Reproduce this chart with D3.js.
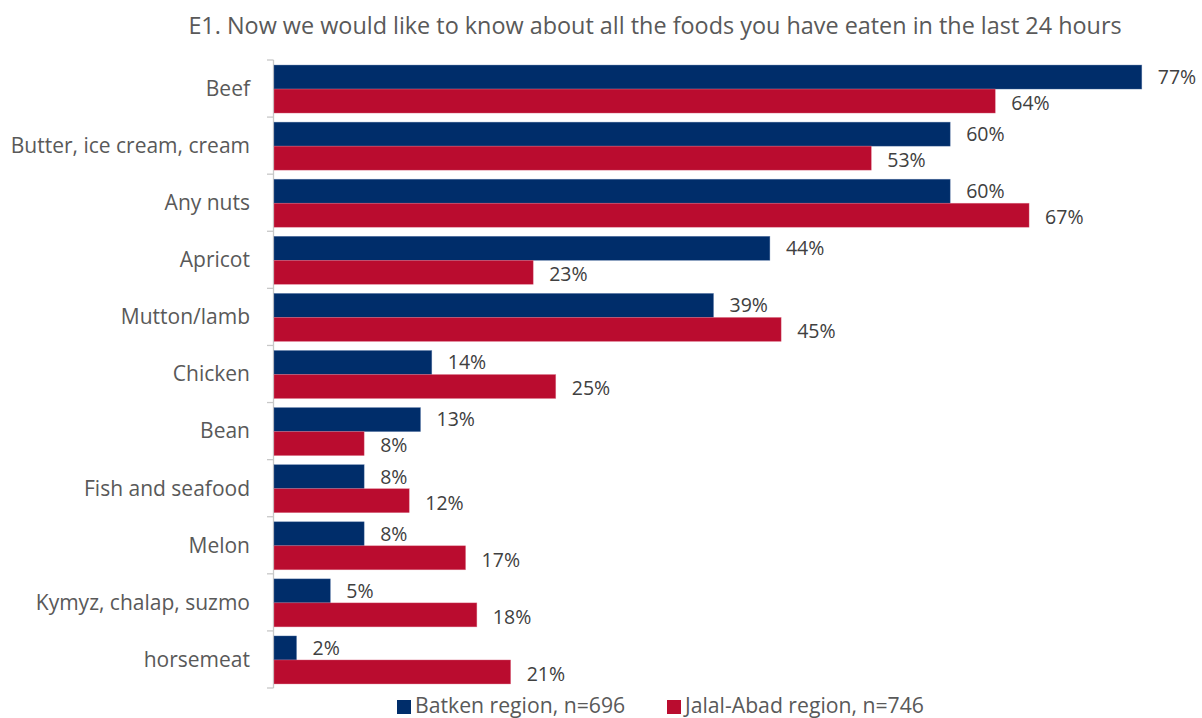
<!DOCTYPE html>
<html>
<head>
<meta charset="utf-8">
<script src="https://cdn.jsdelivr.net/npm/d3@7/dist/d3.min.js"></script>
<style>
  html, body { margin: 0; padding: 0; background: #fff; }
  svg { display: block; font-family: "Open Sans", "Noto Sans", sans-serif; }
</style>
</head>
<body>
<svg id="chart" width="1202" height="718"></svg>
<script>
// Food items eaten in the last 24 hours, share of respondents (%)
const categories = [
  "Beef", "Butter, ice cream, cream", "Any nuts", "Apricot", "Mutton/lamb",
  "Chicken", "Bean", "Fish and seafood", "Melon", "Kymyz, chalap, suzmo", "horsemeat"
];
const batken   = [77, 60, 60, 44, 39, 14, 13, 8, 8, 5, 2];
const jalalAbad = [64, 53, 67, 23, 45, 25, 8, 12, 17, 18, 21];
const seriesNames = ["Batken region, n=696", "Jalal-Abad region, n=746"];
const titleText = "E1. Now we would like to know about all the foods you have eaten in the last 24 hours";

const colors = ["#002D6A", "#BA0C2F"];
const textColor = "#595959";

const svg = d3.select("#chart");
const plotLeft = 274, plotTop = 60, plotBottom = 688;

const x = d3.scaleLinear().domain([0, 80]).range([plotLeft, plotLeft + 901.6]);
const y = d3.scaleBand().domain(categories).range([plotTop, plotBottom]).paddingInner(0).paddingOuter(0);
const barH = 24;
const barOffset = (y.bandwidth() - 2 * barH) / 2 + 0.5;

// Title
svg.append("text")
  .attr("x", 655).attr("y", 34)
  .attr("text-anchor", "middle")
  .attr("fill", textColor)
  .attr("font-size", 23.4)
  .text(titleText);

// Category axis: vertical line with ticks between categories
const axisG = svg.append("g").attr("stroke", "#C8C8C8").attr("stroke-width", 1.3);
axisG.append("line")
  .attr("x1", plotLeft - 0.5).attr("x2", plotLeft - 0.5)
  .attr("y1", plotTop).attr("y2", plotBottom);
const tickYs = categories.map(c => y(c)).concat([plotBottom]);
axisG.selectAll("line.tick").data(tickYs).join("line")
  .attr("class", "tick")
  .attr("x1", plotLeft - 7).attr("x2", plotLeft - 0.5)
  .attr("y1", d => d).attr("y2", d => d);

// Category labels
svg.append("g").selectAll("text").data(categories).join("text")
  .attr("x", 250)
  .attr("y", c => y(c) + y.bandwidth() / 2)
  .attr("dy", "0.35em")
  .attr("text-anchor", "end")
  .attr("fill", textColor)
  .attr("font-size", 21)
  .text(c => c);

// Bars and value labels
const series = [batken, jalalAbad];
series.forEach((vals, si) => {
  const g = svg.append("g");
  const rows = categories.map((c, i) => ({ c, v: vals[i] }));
  g.selectAll("rect").data(rows).join("rect")
    .attr("x", x(0))
    .attr("y", d => y(d.c) + barOffset + si * barH)
    .attr("width", d => x(d.v) - x(0))
    .attr("height", barH)
    .attr("fill", colors[si])
    .attr("stroke", si === 0 ? "#5a78a8" : "#e07a90")
    .attr("stroke-width", 0.6)
    .attr("stroke-opacity", 0.6);
  g.selectAll("text").data(rows).join("text")
    .attr("x", d => x(d.v) + 16)
    .attr("y", d => y(d.c) + barOffset + si * barH + barH / 2 + (si === 0 ? 0 : 2))
    .attr("dy", "0.35em")
    .attr("fill", "#404040")
    .attr("font-size", 19.5)
    .text(d => d.v + "%");
});

// Legend
const legend = svg.append("g");
const legendItems = [{ x: 397, name: seriesNames[0], color: colors[0] },
                     { x: 667, name: seriesNames[1], color: colors[1] }];
legendItems.forEach(it => {
  legend.append("rect")
    .attr("x", it.x).attr("y", 700).attr("width", 14).attr("height", 14)
    .attr("fill", it.color);
  legend.append("text")
    .attr("x", it.x + 18).attr("y", 713)
    .attr("fill", textColor)
    .attr("font-size", 21.2)
    .text(it.name);
});
</script>
</body>
</html>
